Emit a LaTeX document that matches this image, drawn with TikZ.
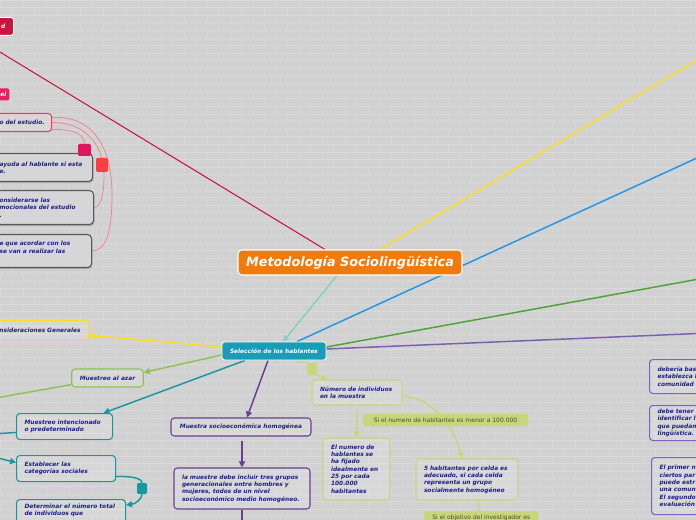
\documentclass[tikz,border=0pt]{standalone}
\usepackage{fontspec}
\setmainfont{DejaVu Sans}
\usetikzlibrary{arrows.meta,shadows}
\hyphenpenalty=10000
\exhyphenpenalty=10000
\definecolor{bg}{HTML}{D1D1D1}
\definecolor{brk}{HTML}{D9D9D9}
\definecolor{navy}{HTML}{1F1F8C}
\definecolor{orng}{HTML}{F07A0C}
\definecolor{selc}{HTML}{1A9BB8}
\definecolor{crim}{HTML}{C8163E}
\definecolor{ylw}{HTML}{FADF1E}
\definecolor{tealL}{HTML}{80D2C6}
\definecolor{blu}{HTML}{2196E6}
\definecolor{grn}{HTML}{4DA23A}
\definecolor{prp}{HTML}{7C5DB0}
\definecolor{lgrn}{HTML}{8DC351}
\definecolor{teal2}{HTML}{18989C}
\definecolor{prp2}{HTML}{6B3E92}
\definecolor{ygrn}{HTML}{C8D67A}
\definecolor{pinkb}{HTML}{E43C6C}
\definecolor{pinkl}{HTML}{F18494}
\definecolor{hotp}{HTML}{E91E63}
\definecolor{sqp}{HTML}{E0145C}
\definecolor{sqr}{HTML}{FF3F3F}
\definecolor{rprp}{HTML}{7A66C2}
\definecolor{gbord}{HTML}{585858}
\definecolor{gfill}{HTML}{D6D6D8}
\definecolor{lbltxt}{HTML}{4A4A3A}
\newcommand\smf{\fontsize{4.4}{5.5}\selectfont\bfseries\itshape}
\pgfdeclarelayer{bglayer}
\pgfdeclarelayer{lineslayer}
\pgfsetlayers{bglayer,lineslayer,main}
\begin{document}
\begin{tikzpicture}[x=0.75pt,y=-0.75pt,
  ln/.style={line width=1.1pt},
  arr/.style={-{Triangle[length=4.5pt,width=4.5pt]}},
  pk/.style={draw=pinkl,line width=0.6pt},
  titlebox/.style={fill=orng,draw=white,line width=0.8pt,rounded corners=3pt,minimum width=168pt,minimum height=18.75pt,inner sep=0pt,text=white,font=\fontsize{9.6}{11}\selectfont\bfseries\itshape},
  selbox/.style={fill=selc,draw=white,line width=0.6pt,rounded corners=2pt,minimum width=78pt,minimum height=13.5pt,inner sep=0pt,text=white,font=\smf},
  bx/.style={draw,rounded corners=2.5pt,line width=0.8pt,fill=white,fill opacity=0.15,text opacity=1,inner xsep=6pt,inner ysep=1pt,font=\smf,text=navy,align=left},
  gbx/.style={draw=gbord,fill=gfill,line width=0.8pt,rounded corners=3pt,drop shadow={shadow xshift=0.8pt,shadow yshift=-1.2pt,opacity=0.4},inner xsep=6pt,inner ysep=1pt,font=\smf,text=navy,align=left,anchor=north west},
  lbl/.style={fill=ygrn,rounded corners=1pt,inner sep=0pt,text=lbltxt,font=\fontsize{4.5}{5.5}\selectfont},
  sq/.style={inner sep=0pt,rounded corners=1pt}]
\useasboundingbox (0,0) rectangle (696,520);
\begin{pgfonlayer}{bglayer}
\fill[bg] (0,0) rectangle (696,520);
\foreach \r in {0,...,68}{
  \pgfmathsetmacro\yy{\r*7.6}
  \pgfmathsetmacro\off{mod(\r,2)*11.5}
  \draw[brk,line width=0.5pt] (0,\yy) -- (696,\yy);
  \foreach \c in {0,...,30}{
    \draw[brk,line width=0.5pt] ({\c*23+\off},\yy) -- ({\c*23+\off},\yy+7.6);
  }
}
\end{pgfonlayer}

% nodes
\node[titlebox] (title) at (350,262.5) {Metodología Sociolingüística};
\node[selbox] (sel) at (274,351) {Selección de los hablantes};

\node[draw=white,line width=0.6pt,fill=crim,rounded corners=2pt,anchor=north west,minimum height=13.5pt,inner xsep=6pt,text width=12.75pt,align=right,text=white,font=\smf] (topd) at (-20,17) {d};
\node[fill=hotp,rounded corners=1.5pt,anchor=north west,minimum height=9pt,inner xsep=2.25pt,inner ysep=0pt,text width=17.25pt,align=right,text=white,font=\smf] (elb) at (-20,88) {el};
\node[bx,draw=pinkb,anchor=north west,text width=33pt,minimum height=13.5pt] (est) at (-9,113) {\mbox{o del estudio.}};
\node[gbx,text width=63.75pt,minimum height=21pt] (g1) at (-9,153) {ayuda al hablante si esta\\e.};
\node[gbx,text width=64.5pt,minimum height=25.5pt] (g2) at (-9,190) {onsiderarse las\\mocionales del estudio\\.};
\node[gbx,text width=63pt,minimum height=24.75pt] (g3) at (-9,234) {e que acordar con los\\se van a realizar las\\\mbox{}};
\node[sq,fill=sqp,minimum width=9.75pt,minimum height=9pt] (sqP) at (84.5,150) {};
\node[sq,fill=sqr,minimum width=9pt,minimum height=10.5pt] (sqR) at (102,165) {};

\node[bx,draw=ylw,anchor=north west,minimum height=14.25pt,text width=76.5pt,align=right] (consid) at (-30,320) {onsideraciones Generales};
\node[bx,draw=lgrn,minimum width=53.25pt,minimum height=13.5pt,align=center] (azar) at (107.5,378) {Muestreo al azar};
\node[bx,draw=teal2,anchor=north west,text width=60pt,minimum height=19.5pt] (intenc) at (16,413) {Muestreo intencionado\\o predeterminado};
\node[bx,draw=teal2,anchor=north west,text width=62.25pt,minimum height=19.5pt] (estab) at (16,455) {Establecer las\\categorías sociales};
\node[bx,draw=teal2,anchor=north west,text width=69.75pt,inner ysep=3pt] (determ) at (16,499) {Determinar el número total\\de individuos que\\\mbox{}\\\mbox{}};
\node[sq,fill=teal2,minimum width=7.5pt,minimum height=8.25pt] (sqT) at (142,488.5) {};

\node[bx,draw=prp2,minimum width=105pt,minimum height=13.5pt,align=center] (muestra) at (241,427) {Muestra socioeconómica homogénea};
\node[bx,draw=prp2,text width=90pt,minimum height=30.75pt] (lam) at (242,488.5) {la muestre debe incluir tres grupos\\generacionales entre hombres y\\mujeres, todos de un nivel\\socioeconómico medio homogéneo.};

\node[sq,fill=ygrn,minimum width=7.5pt,minimum height=9pt] (sqY) at (312,369) {};
\node[bx,draw=ygrn,text width=55.5pt,minimum height=18.75pt] (numero) at (357,392.5) {Número de individuos\\en la muestra};
\node[bx,draw=ygrn,text width=38.25pt,minimum height=46.5pt] (elnum) at (356.5,469) {El numero de\\hablantes se\\ha fijado\\idealmente en\\25 por cada\\100.000\\habitantes};
\node[bx,draw=ygrn,text width=64.5pt,minimum height=30.75pt] (cinco) at (467,479.5) {5 habitantes por celda es\\adecuado, si cada celda\\representa un grupo\\socialmente homogéneo};
\node[lbl,minimum width=123.75pt,minimum height=9pt] (lab1) at (445.5,420) {Si el numero de habitantes es menor a 100.000};
\node[lbl,anchor=north west,minimum width=85.5pt,minimum height=10.5pt] (lab2) at (424,511) {Si el objetivo del investigador es};

\node[bx,draw=rprp,anchor=north west,text width=71.25pt,minimum height=25.5pt] (r1) at (649,359) {debería bas\\establezca l\\comunidad};
\node[bx,draw=rprp,anchor=north west,text width=71.25pt,minimum height=26.25pt] (r2) at (649,405) {debe tener\\identificar l\\que puedan\\lingüística.};
\node[bx,draw=rprp,anchor=north west,text width=69.75pt,minimum height=42.75pt] (r3) at (651,457) {El primer n\\ciertos par\\puede estr\\una comun\\El segundo\\evaluación};

% free ends
\coordinate (cR) at (-10,46);
\coordinate (cY) at (710,52);
\coordinate (cB) at (710,152);
\coordinate (cG) at (710,277);
\coordinate (cP) at (710,333);
\coordinate (cAz) at (-10,399);
\coordinate (cT1) at (-10,434);
\coordinate (cT2) at (-10,456);
\coordinate (cM) at (242,530);

\begin{pgfonlayer}{lineslayer}
\draw[crim,line width=0.8pt] ([xshift=-18.75pt]title.north) -- (cR);
\draw[ln,ylw] ([xshift=22.5pt]title.north) -- (cY);
\draw[ln,tealL,arr] ([xshift=-9.75pt]title.south) -- ([xshift=6.75pt]sel.north);
\draw[ln,blu] ([xshift=17.25pt]sel.north) -- (cB);
\draw[ln,grn] ([yshift=3pt]sel.east) -- (cG);
\draw[ln,prp] ([yshift=1.5pt]sel.east) -- (cP);
\draw[ln,ylw,arr] ([yshift=3pt]sel.west) -- ([yshift=-4pt]consid.east);
\draw[ln,lgrn,arr] ([yshift=-3pt]sel.west) -- ([yshift=-3pt]azar.north east);
\draw[ln,lgrn] ([yshift=-5pt]azar.west) -- (cAz);
\draw[ln,teal2,arr] ([xshift=-21.75pt]sel.south) -- ([xshift=29.25pt]intenc.north);
\draw[ln,teal2] ([yshift=-4.5pt]intenc.west) -- (cT1);
\draw[ln,teal2,arr] (cT2) -- ([yshift=4.5pt]estab.west);
\draw[ln,teal2] ([yshift=-6pt]estab.east) .. controls (130,476) and (142,478) .. (sqT.north);
\draw[ln,teal2,arr] (sqT.south) .. controls (142,500) and (134,504) .. ([yshift=-4.5pt]determ.north east);
\draw[ln,prp2,arr] ([xshift=-4.5pt]sel.south) -- ([xshift=4.5pt]muestra.north);
\draw[ln,prp2,arr] ([xshift=0.75pt,yshift=-3pt]muestra.south) -- (lam.north);
\draw[ln,prp2] (lam.south) -- (cM);
\draw[ln,ygrn] ([xshift=16.5pt]sel.south) -- (sqY.north west);
\draw[ln,ygrn,arr] (sqY.south east) -- ([xshift=12pt]numero.north west);
\draw[ln,ygrn,arr] ([yshift=-3pt]numero.south) -- (elnum.north);
\draw[ln,ygrn,arr] ([yshift=-2.5pt]numero.east) .. controls (435,398) and (455,430) .. ([xshift=-3.75pt]cinco.north);
\draw[ln,ygrn] ([xshift=8.25pt]cinco.south) -- ([xshift=-2pt]lab2.north);
\draw[pk] ([yshift=3.75pt]est.east) .. controls (95,115) and (112,150) .. (112,195) .. controls (112,235) and (105,250.5) .. (g3.east);
\draw[pk] (est.east) .. controls (88,122) and (104,148) .. (104,175) .. controls (104,198) and (100,207) .. (g2.east);
\draw[pk] ([yshift=-5.25pt]est.east) .. controls (72,129) and (84,133) .. (sqP.north);
\end{pgfonlayer}
\end{tikzpicture}
\end{document}
